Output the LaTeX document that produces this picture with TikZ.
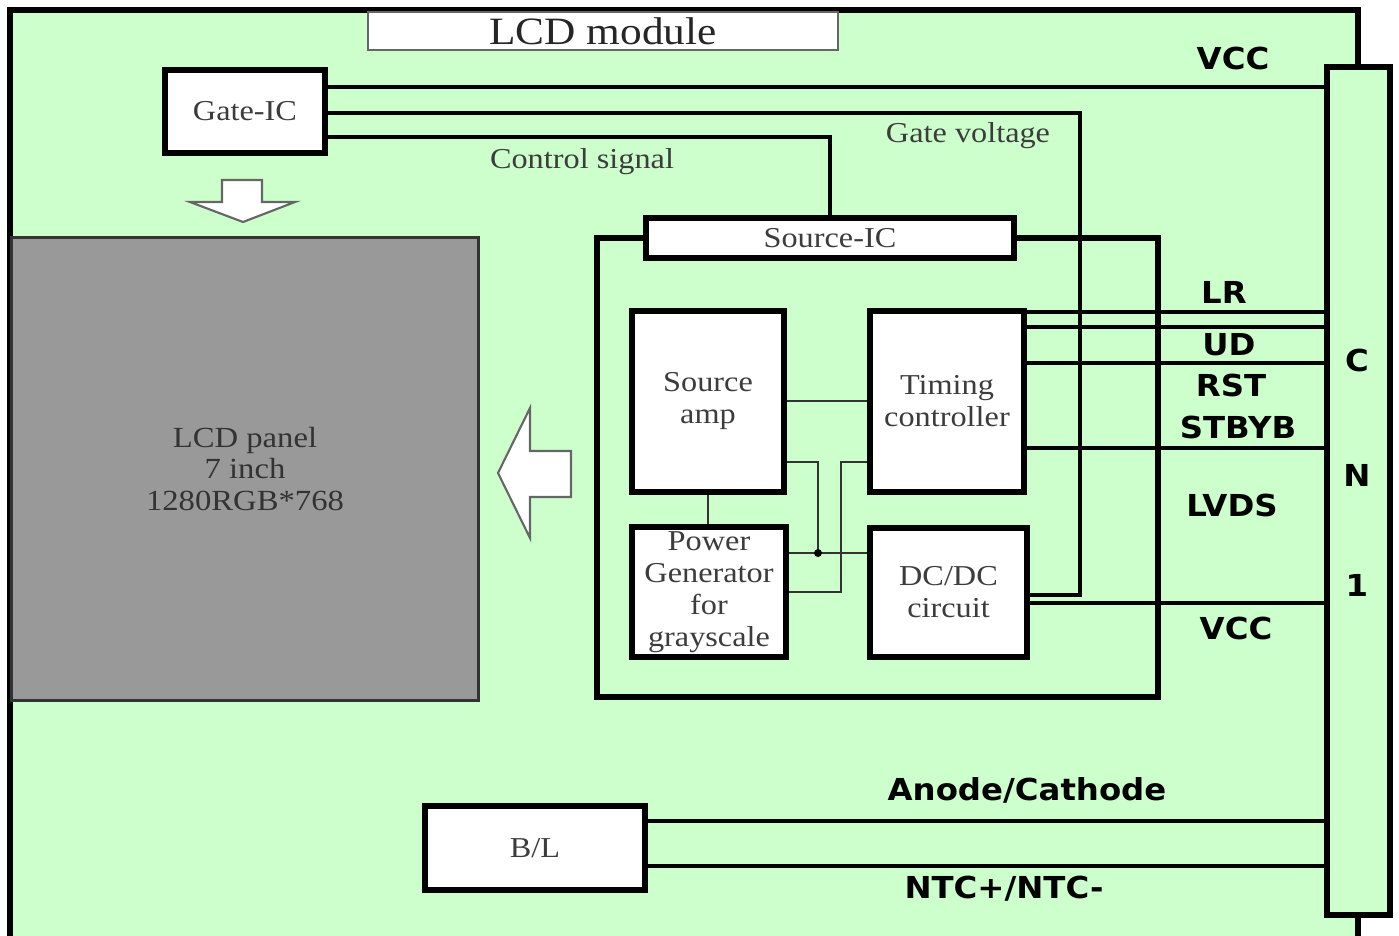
\documentclass[tikz,border=0pt]{standalone}
\usepackage{fontspec}
\setmainfont{Liberation Serif}[FakeStretch=1.12]
\newfontfamily\labelfont{DejaVu Sans}[FakeStretch=1.07]
\usetikzlibrary{calc}
\definecolor{ModGreen}{RGB}{204,255,204}
\definecolor{PanelGray}{RGB}{153,153,153}
\definecolor{TextGray}{RGB}{60,60,60}
\tikzset{
  icbox/.style={draw=black,line width=1.7pt,fill=white,align=center,inner sep=0pt,
    text=TextGray,font=\fontsize{8.2}{9.1}\selectfont},
  wire/.style={draw=black,line width=1.4pt},
  thinwire/.style={draw=black!80,line width=0.5pt},
  siglabel/.style={inner sep=0pt,font={\labelfont\bfseries\fontsize{8.6}{10}\selectfont}},
  notelabel/.style={inner sep=0pt,text=TextGray,font=\fontsize{8.2}{9.1}\selectfont},
  hollowarrow/.style={draw=black!60,line width=0.6pt,fill=white},
}

\begin{document}
\begin{tikzpicture}[x=0.01cm,y=-0.01cm]
  \clip (0,0) rectangle (1399,936);
  \fill[white] (0,0) rectangle (1399,936);
  % module frame
  \draw[line width=1.8pt,fill=ModGreen] (10,10) rectangle (1358,945);
  \node[draw=black!60,line width=0.6pt,fill=white,minimum width=4.70cm,
    minimum height=0.38cm,inner sep=0pt,text=black!85,
    font=\fontsize{11}{13}\selectfont] (title) at (603,31) {LCD module};

  % panel and gate side
  \node[draw=black!80,line width=0.8pt,fill=PanelGray,minimum width=4.66cm,
    minimum height=4.62cm,align=center,text=black!80,
    font=\fontsize{8.3}{9}\selectfont] (panel) at (245,469)
    {LCD panel\\7 inch\\1280RGB*768};
  \node[icbox,minimum width=1.60cm,minimum height=0.83cm] (gate) at (245,111.5) {Gate-IC};
  \draw[hollowarrow] (222,180) -- (262,180) -- (262,202) -- (295,202)
    -- (243,222) -- (190,202) -- (222,202) -- cycle;
  \draw[hollowarrow] (498,473) -- (530,408) -- (530,451) -- (571,451)
    -- (571,497) -- (530,497) -- (530,538) -- cycle;

  % source side
  \node[icbox,minimum width=3.68cm,minimum height=0.40cm] (srcic) at (830,238) {Source-IC};
  \node[icbox,minimum width=1.52cm,minimum height=1.81cm] (amp) at (708,401.5) {Source\\amp};
  \node[icbox,minimum width=1.54cm,minimum height=1.81cm] (tcon) at (947,401.5) {Timing\\controller};
  \node[icbox,minimum width=1.54cm,minimum height=1.30cm] (pgen) at (709,592)
    {Power\\Generator\\for\\grayscale};
  \node[icbox,minimum width=1.57cm,minimum height=1.29cm] (dcdc) at (948.5,592.5) {DC/DC\\circuit};
  \draw[wire,line width=1.7pt] (srcic.west) -| (597,697) -| (1158,238) -- (srcic.east);

  % connector and backlight
  \node[draw=black,line width=1.7pt,fill=ModGreen,minimum width=0.63cm,
    minimum height=8.48cm,inner sep=0pt] (cn) at (1358.5,491) {};
  \node[icbox,minimum width=2.20cm,minimum height=0.84cm] (bl) at (535,848) {B/L};

  % thick wires
  \draw[wire] (gate.east |- 0,87) -- (cn.west |- 0,87);
  \draw[wire] (gate.east |- 0,113) -| (1080,595) -- (dcdc.east |- 0,595);
  \draw[wire] (gate.east |- 0,137) -| (srcic.north);
  \foreach \y in {312,327,363,448}
    \draw[wire] (tcon.east |- 0,\y) -- (cn.west |- 0,\y);
  \draw[wire] (dcdc.east |- 0,603) -- (cn.west |- 0,603);
  \draw[wire] (bl.east |- 0,821) -- (cn.west |- 0,821);
  \draw[wire] (bl.east |- 0,866) -- (cn.west |- 0,866);

  % thin wires
  \coordinate (jn) at (818,553);
  \draw[thinwire] (amp.east |- 0,401) -- (tcon.west |- 0,401);
  \draw[thinwire] (amp.east |- 0,462) -| (jn);
  \draw[thinwire] (tcon.west |- 0,462) -| (841,592) -- (pgen.east |- 0,592);
  \draw[thinwire] (pgen.east |- 0,553) -- (dcdc.west |- 0,553);
  \draw[thinwire] (amp.south) -- (amp.south |- pgen.north);
  \fill (jn) circle[radius=0.04cm];

  % labels
  \node[notelabel] (lblgv) at (968,136) {Gate voltage};
  \node[notelabel] (lblctl) at (582,162) {Control signal};
  \node[siglabel] (lblvcca) at (1233,58) {VCC};
  \node[siglabel] (lbllr) at (1224,292) {LR};
  \node[siglabel] (lblud) at (1229,345) {UD};
  \node[siglabel] (lblrst) at (1231,385) {RST};
  \node[siglabel] (lblstb) at (1238,427) {STBYB};
  \node[siglabel] (lbllvds) at (1232,505) {LVDS};
  \node[siglabel] (lblvccb) at (1236,628) {VCC};
  \node[siglabel] (lblac) at (1027,790) {Anode/Cathode};
  \node[siglabel] (lblntc) at (1004,889) {NTC+/NTC-};
  \node[siglabel] (cnc) at (1357,360) {C};
  \node[siglabel] (cnn) at (1357,475) {N};
  \node[siglabel] (cn1) at (1357,585) {1};
\end{tikzpicture}
\end{document}
